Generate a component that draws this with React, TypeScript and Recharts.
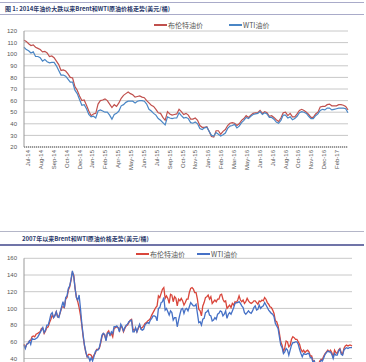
import React from 'react';
import { LineChart, Line, XAxis, YAxis, CartesianGrid } from 'recharts';

const TOP_TITLE = '图 1: 2014年油价大跌以来Brent和WTI原油价格走势(美元/桶)';
const BOTTOM_TITLE = '2007年以来Brent和WTI原油价格走势(美元/桶)';
const SERIES_NAMES = ['布伦特油价', 'WTI油价'];

// Top chart: weekly values, week 0 = 2014-06-23
const TOP_BRENT = [
  112, 111, 109, 107.5, 108, 106, 105, 104, 102, 102.5,
  101, 98, 98.5, 97, 94, 91, 86, 86.5, 85.5, 83,
  80, 79.5, 72, 69, 64, 60, 60.5, 56, 51, 47,
  48.5, 49, 57, 60, 60.5, 61.5, 60, 57, 54, 56.5,
  55, 58, 62, 64.5, 66, 67.5, 66, 65, 63, 63.5,
  64, 63, 62.5, 60, 58, 56, 55, 52.5, 49.5, 49,
  45.5, 43, 50.5, 48.5, 47.5, 48, 48.5, 52.5, 50.5, 48,
  49, 47.5, 44, 44, 45, 43, 38.5, 37, 37, 37.5,
  33.5, 29, 28.5, 34, 34, 31, 33.5, 35, 38.5, 40.5,
  41, 40.5, 38.5, 40, 43, 44.5, 47, 45.5, 47.5, 49,
  49.5, 49.5, 51.5, 49, 50.5, 49.5, 46.5, 47, 45.5, 43.5,
  42, 45, 49.5, 50, 47, 49, 46, 46, 48.5, 51.5,
  52.5, 51.5, 50, 48, 45.5, 45.5, 48.5, 50, 54.5, 55,
  55, 56.5, 57, 55.5, 55.5, 55.5, 56.5, 56.5, 56, 55,
  52,
];
const TOP_WTI = [
  106, 104, 103, 101, 102, 98, 98, 97, 94, 95.5,
  93.5, 92.5, 93, 93, 90, 86, 82, 82, 81, 78.5,
  76, 76, 69, 66, 61, 56, 56.5, 53, 48, 46,
  46.5, 45, 51, 52, 51, 50, 50, 47.5, 44, 48,
  49, 51, 55.5, 56.5, 58.5, 59.5, 59.5, 59.5, 58, 59.5,
  60, 60, 59.5, 57, 52.5, 51, 49, 47.5, 44.5, 43,
  41, 39, 46, 45, 44.5, 45, 45, 49.5, 47, 45,
  45.5, 44.5, 41, 40.5, 41.5, 40, 36, 35, 36.5, 37,
  33.5, 30, 29.5, 32.5, 31, 29.5, 30.5, 32, 36, 38,
  38.5, 39.5, 36.5, 38, 41, 43, 45.5, 44.5, 46.5, 48,
  48.5, 49, 50.5, 48, 49.5, 48.5, 45.5, 45.5, 44, 41.5,
  40.5, 43, 47.5, 47.5, 45, 46, 43.5, 44.5, 46.5, 49.5,
  50.5, 50, 49, 46.5, 44.5, 44.5, 47, 48.5, 51.5, 52.5,
  52, 53.5, 53.5, 52, 52.5, 53, 53.5, 53.5, 53.5, 53,
  49.5,
];
const TOP_TICK_WEEKS = [
  1.7, 7.3, 12.9, 18.4, 24.0, 29.5, 35.1, 40.7, 46.2, 51.8, 57.4, 62.9, 68.5,
  74.1, 79.6, 85.2, 90.8, 96.3, 101.9, 107.4, 113.0, 118.6, 124.1, 129.7, 135.3,
];
const TOP_TICK_LABELS = [
  'Jul-14', 'Aug-14', 'Sep-14', 'Oct-14', 'Dec-14', 'Jan-15', 'Feb-15', 'Apr-15',
  'May-15', 'Jun-15', 'Jul-15', 'Sep-15', 'Oct-15', 'Nov-15', 'Jan-16', 'Feb-16',
  'Mar-16', 'May-16', 'Jun-16', 'Jul-16', 'Aug-16', 'Oct-16', 'Nov-16', 'Dec-16', 'Feb-17',
];
const TOP_Y_TICKS = [20, 30, 40, 50, 60, 70, 80, 90, 100, 110, 120];

// Bottom chart: semi-monthly values, index 0 = 2007-01-01
const BOT_BRENT = [
  // 2007
  57, 53, 57, 58, 61, 62, 66, 67, 66, 69, 70, 71, 72, 76, 76, 70, 73, 77, 78, 83, 87, 92, 89, 92,
  // 2008
  96, 90, 91, 95, 101, 102, 101, 111, 113, 122, 126, 134, 143, 140, 124, 113, 108, 101, 92, 80, 66, 55, 47, 42,
  // 2009
  45, 45, 44, 40, 44, 46, 51, 51, 52, 58, 66, 70, 68, 62, 71, 73, 68, 70, 66, 76, 77, 78, 77, 73,
  // 2010
  79, 77, 72, 76, 79, 80, 83, 86, 87, 76, 73, 76, 72, 76, 80, 76, 77, 79, 82, 83, 85, 86, 88, 92,
  // 2011
  95, 98, 101, 103, 115, 113, 118, 123, 125, 112, 115, 112, 106, 117, 116, 108, 114, 112, 103, 111, 109, 112, 109, 104,
  // 2012
  107, 111, 111, 119, 124, 125, 123, 119, 119, 111, 99, 97, 91, 103, 107, 113, 114, 116, 111, 114, 106, 108, 110, 108,
  // 2013
  111, 111, 116, 117, 111, 108, 109, 100, 102, 104, 101, 106, 104, 108, 107, 110, 115, 110, 108, 110, 106, 108, 112, 109,
  // 2014
  107, 106, 107, 109, 109, 107, 105, 109, 108, 110, 109, 113, 111, 107, 105, 102, 101, 98, 94, 85, 84, 79, 70, 60,
  // 2015
  56, 48, 53, 61, 60, 54, 56, 63, 66, 65, 63, 63, 60, 57, 51, 48, 50, 47, 49, 50, 48, 43, 43, 37,
  // 2016
  37, 29, 34, 33, 37, 39, 39, 43, 46, 48, 50, 48, 50, 47, 42, 50, 47, 46, 50, 52, 47, 45, 52, 55,
  // 2017
  56, 55, 56, 56, 55,
];
const BOT_WTI = [
  // 2007
  56, 52, 57, 58, 61, 57, 64, 63, 63, 64, 65, 68, 71, 74, 77, 71, 74, 80, 80, 86, 93, 95, 89, 91,
  // 2008
  96, 90, 89, 96, 102, 108, 101, 113, 115, 124, 127, 135, 145, 138, 124, 113, 110, 116, 100, 82, 68, 56, 48, 42,
  // 2009
  42, 37, 41, 37, 42, 48, 50, 50, 53, 60, 68, 70, 69, 61, 70, 71, 68, 72, 70, 78, 78, 79, 77, 72,
  // 2010
  81, 78, 73, 77, 80, 81, 84, 85, 86, 72, 72, 77, 72, 77, 81, 75, 74, 75, 80, 82, 83, 82, 86, 88,
  // 2011
  91, 91, 90, 85, 100, 101, 107, 108, 113, 98, 100, 96, 92, 97, 95, 86, 89, 89, 78, 86, 93, 99, 100, 94,
  // 2012
  99, 100, 97, 102, 107, 105, 103, 103, 105, 94, 83, 84, 80, 87, 88, 95, 96, 98, 92, 91, 85, 86, 89, 87,
  // 2013
  93, 94, 97, 96, 91, 93, 97, 88, 93, 95, 93, 97, 101, 106, 107, 107, 108, 106, 103, 101, 95, 93, 95, 97,
  // 2014
  95, 94, 97, 101, 103, 98, 99, 104, 100, 102, 103, 107, 104, 101, 98, 96, 94, 93, 90, 82, 79, 76, 66, 56,
  // 2015
  53, 46, 48, 52, 50, 44, 50, 56, 59, 59, 60, 60, 57, 51, 46, 42, 46, 45, 45, 46, 46, 41, 41, 35,
  // 2016
  37, 29, 32, 29, 34, 38, 37, 41, 45, 47, 49, 48, 48, 45, 40, 46, 44, 44, 49, 51, 45, 44, 50, 52,
  // 2017
  53, 52, 53, 53, 53,
];
const BOT_Y_TICKS = [40, 60, 80, 100, 120, 140, 160];

const TOP_COLORS = ['#c0504d', '#4a86c5'];
const BOT_COLORS = ['#d9463b', '#4671c6'];
const NUM_FONT = '"Liberation Sans", Arial, sans-serif';
const CJK_FONT = '"Noto Sans CJK SC", sans-serif';

const RotTick = (props: any) => {
  const { x, y, payload } = props;
  const idx = TOP_TICK_WEEKS.indexOf(payload.value);
  return (
    <text
      x={x}
      y={y}
      transform={`rotate(-90 ${x} ${y})`}
      textAnchor="end"
      dominantBaseline="central"
      fontSize={6}
      fill="#555"
      fontFamily={NUM_FONT}
    >
      {TOP_TICK_LABELS[idx]}
    </text>
  );
};

const LegendItem = ({ left, top, color, label }: any) => (
  <div style={{ position: 'absolute', left, top, display: 'flex', alignItems: 'center', whiteSpace: 'nowrap' }}>
    <div style={{ width: 13, height: 2, background: color, marginRight: 1 }} />
    <span style={{ fontSize: 7, color: '#555', fontFamily: CJK_FONT, lineHeight: '8px' }}>{label}</span>
  </div>
);

export default function App() {
  const topData = TOP_BRENT.map((b, i) => ({ w: i, brent: b, wti: TOP_WTI[i] }));
  const botData = BOT_BRENT.map((b, i) => ({ h: i, brent: b, wti: BOT_WTI[i] }));
  return (
    <div style={{ position: 'fixed', left: 0, top: 0, width: 366, height: 362, overflow: 'hidden', background: '#fff' }}>
      {/* top title block */}
      <div style={{ position: 'absolute', left: 0, top: 2, width: 364, height: 1, background: '#a9abc9' }} />
      <div style={{ position: 'absolute', left: 5, top: 5, fontSize: 6, lineHeight: '8px', fontWeight: 'bold', color: '#2b3a6b', fontFamily: CJK_FONT, whiteSpace: 'nowrap' }}>
        {TOP_TITLE}
      </div>
      <div style={{ position: 'absolute', left: 0, top: 14, width: 364, height: 1, background: '#a9abc9' }} />

      <div style={{ position: 'absolute', left: 0, top: 0 }}>
        <LineChart width={366} height={180} data={topData} margin={{ top: 31, right: 18, left: 0, bottom: 0 }}>
          <CartesianGrid vertical={false} stroke="#c8c8c8" />
          <XAxis
            dataKey="w"
            type="number"
            domain={[0, 140]}
            ticks={TOP_TICK_WEEKS}
            interval={0}
            tick={<RotTick />}
            tickLine={false}
            tickSize={3}
            tickMargin={0}
            height={33}
            axisLine={{ stroke: '#999', strokeWidth: 2, strokeDasharray: '1 1' }}
          />
          <YAxis
            domain={[20, 120]}
            ticks={TOP_Y_TICKS}
            interval={0}
            width={24}
            tickLine={false}
            tickSize={5}
            tickMargin={2}
            axisLine={{ stroke: '#999' }}
            tick={{ fontSize: 6, fill: '#555', fontFamily: NUM_FONT }}
          />
          <Line type="linear" dataKey="brent" name={SERIES_NAMES[0]} stroke={TOP_COLORS[0]} strokeWidth={1.2} dot={false} isAnimationActive={false} />
          <Line type="linear" dataKey="wti" name={SERIES_NAMES[1]} stroke={TOP_COLORS[1]} strokeWidth={1.2} dot={false} isAnimationActive={false} />
        </LineChart>
      </div>
      <LegendItem left={154} top={21} color={TOP_COLORS[0]} label={SERIES_NAMES[0]} />
      <LegendItem left={229} top={21} color={TOP_COLORS[1]} label={SERIES_NAMES[1]} />

      {/* bottom title block */}
      <div style={{ position: 'absolute', left: 0, top: 231, width: 364, height: 1, background: '#b4b6c8' }} />
      <div style={{ position: 'absolute', left: 22, top: 235, fontSize: 6, lineHeight: '8px', fontWeight: 'bold', color: '#2b3a6b', fontFamily: CJK_FONT, whiteSpace: 'nowrap' }}>
        {BOTTOM_TITLE}
      </div>
      <div style={{ position: 'absolute', left: 0, top: 244, width: 364, height: 2, background: '#7074a8' }} />

      <div style={{ position: 'absolute', left: 0, top: 230 }}>
        <LineChart width={366} height={200} data={botData} margin={{ top: 28.3, right: 14, left: 0, bottom: 38.1 }}>
          <CartesianGrid vertical={false} stroke="#c8c8c8" />
          <XAxis dataKey="h" type="number" domain={[0, 244]} hide />
          <YAxis
            domain={[0, 160]}
            ticks={BOT_Y_TICKS}
            interval={0}
            width={24}
            tickLine={false}
            tickSize={5}
            tickMargin={2}
            axisLine={{ stroke: '#999' }}
            tick={{ fontSize: 6, fill: '#555', fontFamily: NUM_FONT }}
          />
          <Line type="linear" dataKey="brent" name={SERIES_NAMES[0]} stroke={BOT_COLORS[0]} strokeWidth={1.3} dot={false} isAnimationActive={false} />
          <Line type="linear" dataKey="wti" name={SERIES_NAMES[1]} stroke={BOT_COLORS[1]} strokeWidth={1.3} dot={false} isAnimationActive={false} />
        </LineChart>
      </div>
      <LegendItem left={136} top={250} color={BOT_COLORS[0]} label={SERIES_NAMES[0]} />
      <LegendItem left={197} top={250} color={BOT_COLORS[1]} label={SERIES_NAMES[1]} />
    </div>
  );
}
